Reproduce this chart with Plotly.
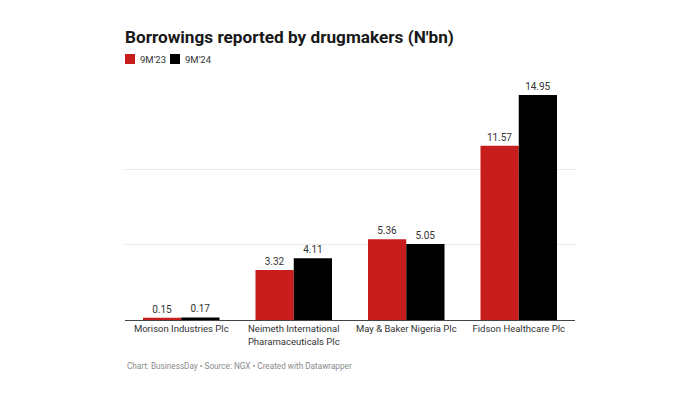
import plotly.graph_objects as go

# Данные (N'bn)
companies = [
    "Morison Industries Plc",
    "Neimeth International<br>Pharamaceuticals Plc",
    "May & Baker Nigeria Plc",
    "Fidson Healthcare Plc",
]
series_names = ["9M'23", "9M'24"]
values_9m23 = [0.15, 3.32, 5.36, 11.57]
values_9m24 = [0.17, 4.11, 5.05, 14.95]

RED = "#c71e1d"
BLACK = "#000000"
FONT = "Roboto"

# страница браузера даёт отступ 8px, поэтому всё сдвинуто на 8px
W, H = 700, 400
L, R, T, B = 117, 133, 87, 88
PW, PH = W - L - R, H - T - B


def px_x(x):
    return (x - L) / PW


def px_y(y):
    return (H - B - y) / PH


fig = go.Figure()
for name, vals, col in [(series_names[0], values_9m23, RED),
                        (series_names[1], values_9m24, BLACK)]:
    fig.add_trace(go.Bar(
        x=companies, y=vals, name=name,
        marker=dict(color=col, line=dict(width=0)),
        text=[f"{v:.2f}" for v in vals], textposition="outside",
        textfont=dict(size=10, color="#333333"), cliponaxis=False,
        showlegend=False,
    ))

# легенда вручную: квадрат + подпись
shapes = []
annotations = []
for i, (name, col) in enumerate(zip(series_names, [RED, BLACK])):
    x0 = 117 + i * 45
    shapes.append(dict(
        type="rect", xref="paper", yref="paper",
        x0=px_x(x0), x1=px_x(x0 + 10), y0=px_y(46), y1=px_y(56),
        fillcolor=col, line=dict(width=0),
    ))
    annotations.append(dict(
        text=name, xref="paper", yref="paper",
        x=px_x(x0 + 13), y=px_y(51), xanchor="left", yanchor="middle",
        showarrow=False, font=dict(size=9.5, color="#333333", family=FONT),
    ))

annotations.append(dict(
    text="Chart: BusinessDay • Source: NGX • Created with Datawrapper",
    xref="paper", yref="paper", x=px_x(117), y=px_y(358),
    xanchor="left", yanchor="middle",
    showarrow=False, font=dict(size=8.2, color="#8a8a8a", family=FONT),
))

fig.update_layout(
    width=W, height=H,
    paper_bgcolor="white", plot_bgcolor="white",
    font=dict(family=FONT, color="#333333"),
    margin=dict(l=L, r=R, t=T, b=B),
    barmode="group", bargap=0.32, bargroupgap=0,
    title=dict(
        text="<b>Borrowings reported by drugmakers (N'bn)</b>",
        x=L / W, xanchor="left", y=1 - 29 / H, yanchor="middle",
        font=dict(size=17.2, color="#181818", family=FONT),
    ),
    xaxis=dict(
        showgrid=False, showline=True, linecolor="#444444", linewidth=1,
        ticks="", tickfont=dict(size=9.5, color="#333333"),
    ),
    yaxis=dict(
        range=[0, 14.95], tickvals=[5, 10], showticklabels=False,
        gridcolor="#e8e8e8", gridwidth=1, zeroline=False,
    ),
    shapes=shapes,
    annotations=annotations,
)

fig.write_html("out.html")
